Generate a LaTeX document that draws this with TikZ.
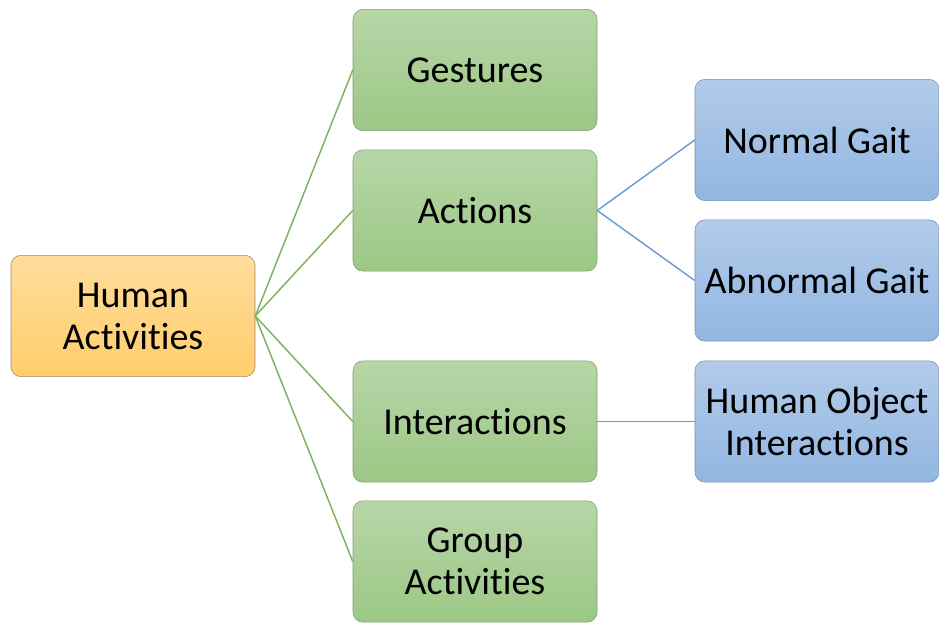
\documentclass[tikz,border=0pt]{standalone}
\usepackage{fontspec}
\setmainfont[Ligatures=NoCommon]{Carlito}
\begin{document}
\begin{tikzpicture}[x=0.75pt,y=-0.75pt,
  box/.style={rounded corners=7.5pt, minimum width=183pt, minimum height=91pt,
    inner sep=0pt, align=center, font=\fontsize{28.5}{31.5}\selectfont, text=black},
  obox/.style={box, top color=orangeT, bottom color=orangeB, draw=orangeD},
  gbox/.style={box, top color=greenT, bottom color=greenB, draw=greenD},
  bbox/.style={box, top color=blueT, bottom color=blueB, draw=blueD},
  gline/.style={draw=greenL, line width=1.1pt},
  bline/.style={draw=blueL, line width=1.1pt}]
\definecolor{orangeT}{HTML}{FFDD9C}
\definecolor{orangeB}{HTML}{FFCD6C}
\definecolor{orangeD}{HTML}{9A8A6A}
\definecolor{greenT}{HTML}{B7D6A8}
\definecolor{greenB}{HTML}{9CC785}
\definecolor{greenD}{HTML}{7F9C70}
\definecolor{blueT}{HTML}{B2CBE9}
\definecolor{blueB}{HTML}{92B6E2}
\definecolor{blueD}{HTML}{7890AA}
\definecolor{greenL}{HTML}{7DB35E}
\definecolor{blueL}{HTML}{6C9DD2}
\useasboundingbox (0,0) rectangle (939,624);
\node[obox] (root) at (133,316) {Human\\Activities};
\node[gbox] (ges) at (475,70) {Gestures};
\node[gbox] (act) at (475,210.5) {Actions};
\node[gbox] (int) at (475,421.5) {Interactions};
\node[gbox] (grp) at (475,561.5) {Group\\Activities};
\node[bbox] (ng) at (817,140) {Normal Gait};
\node[bbox] (ag) at (817,280.5) {Abnormal Gait};
\node[bbox] (hoi) at (817,421.5) {Human Object\\Interactions};
\foreach \n in {ges,act,int,grp} \draw[gline] (root.east) -- (\n.west);
\draw[bline] (act.east) -- (ng.west);
\draw[bline] (act.east) -- (ag.west);
\draw[bline] (int.east) -- (hoi.west);
\end{tikzpicture}
\end{document}
